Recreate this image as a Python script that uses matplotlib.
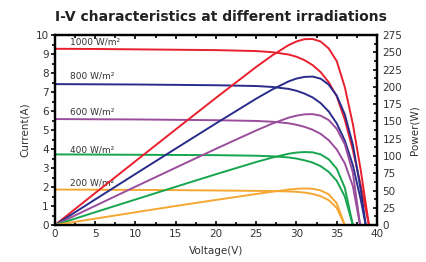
import matplotlib
matplotlib.use("Agg")
from matplotlib import pyplot as plt
from matplotlib.ticker import MultipleLocator

# 1000 W/m2
v_1000 = [0, 5, 10, 15, 20, 25, 27, 29, 30, 31, 32, 33, 34, 35, 36, 37, 38, 39]
i_1000 = [9.28, 9.27, 9.25, 9.23, 9.21, 9.16, 9.10, 8.98, 8.86, 8.68, 8.42, 8.05, 7.52, 6.78, 5.55, 3.95, 2.05, 0]
p_1000 = [0, 46.4, 92.5, 138.5, 184.2, 229.0, 245.7, 260.4, 265.8, 269.1, 269.4, 265.7, 255.7, 237.3, 199.8, 146.2, 77.9, 0]

# 800 W/m2
v_800 = [0, 5, 10, 15, 20, 25, 27, 29, 30, 31, 32, 33, 34, 35, 36, 37, 38, 38.6]
i_800 = [7.42, 7.41, 7.40, 7.38, 7.36, 7.32, 7.27, 7.17, 7.07, 6.92, 6.72, 6.42, 5.98, 5.35, 4.45, 3.15, 1.30, 0]
p_800 = [0, 37.1, 74.0, 110.7, 147.2, 183.0, 196.3, 207.9, 212.1, 214.5, 215.0, 211.9, 203.3, 187.3, 160.2, 116.6, 49.4, 0]

# 600 W/m2
v_600 = [0, 5, 10, 15, 20, 25, 27, 29, 30, 31, 32, 33, 34, 35, 36, 37, 37.9]
i_600 = [5.58, 5.57, 5.56, 5.54, 5.52, 5.48, 5.44, 5.36, 5.28, 5.17, 5.02, 4.80, 4.47, 3.98, 3.25, 2.05, 0]
p_600 = [0, 27.9, 55.6, 83.1, 110.4, 137.0, 146.9, 155.4, 158.4, 160.3, 160.6, 158.4, 152.0, 139.3, 117.0, 75.9, 0]

# 400 W/m2
v_400 = [0, 5, 10, 15, 20, 25, 27, 29, 30, 31, 32, 33, 34, 35, 36, 37]
i_400 = [3.72, 3.71, 3.70, 3.69, 3.68, 3.65, 3.62, 3.56, 3.50, 3.41, 3.29, 3.10, 2.80, 2.33, 1.50, 0]
p_400 = [0, 18.6, 37.0, 55.4, 73.6, 91.3, 97.7, 103.2, 105.0, 105.7, 105.3, 102.3, 95.2, 81.6, 54.0, 0]

# 200 W/m2
v_200 = [0, 5, 10, 15, 20, 25, 27, 29, 30, 31, 32, 33, 34, 35, 36]
i_200 = [1.87, 1.86, 1.85, 1.84, 1.82, 1.80, 1.79, 1.77, 1.75, 1.71, 1.64, 1.52, 1.31, 0.90, 0]
p_200 = [0, 9.3, 18.5, 27.6, 36.4, 45.0, 48.3, 51.3, 52.5, 53.0, 52.5, 50.2, 44.5, 31.5, 0]

labels = ["1000 W/m²", "800 W/m²", "600 W/m²", "400 W/m²", "200 W/m²"]
label_y = [9.65, 7.85, 5.95, 3.95, 2.2]
colors = ["#e8202e", "#2a2c8c", "#9a4d9c", "#17a64f", "#f6a733"]

curves = [
    (v_1000, i_1000, p_1000),
    (v_800, i_800, p_800),
    (v_600, i_600, p_600),
    (v_400, i_400, p_400),
    (v_200, i_200, p_200),
]

fig = plt.figure(figsize=(4.26, 2.62), dpi=100)
ax = fig.add_axes([0.129, 0.141, 0.756, 0.725])
ax2 = ax.twinx()

for (v, i, p), c in zip(curves, colors):
    ax.plot(v, i, color=c, lw=1.4, solid_joinstyle="round")
    ax2.plot(v, p, color=c, lw=1.4, solid_joinstyle="round")

for txt, y in zip(labels, label_y):
    ax.text(1.9, y, txt, fontsize=6.5, color="#333333", va="center")

ax.set_xlim(0, 40)
ax.set_ylim(0, 10)
ax2.set_ylim(0, 275)

ax.xaxis.set_major_locator(MultipleLocator(5))
ax.xaxis.set_minor_locator(MultipleLocator(2.5))
ax.yaxis.set_major_locator(MultipleLocator(1))
ax.yaxis.set_minor_locator(MultipleLocator(0.5))
ax2.yaxis.set_major_locator(MultipleLocator(25))
ax2.yaxis.set_minor_locator(MultipleLocator(12.5))

ax.tick_params(axis="both", which="major", labelsize=7.5, labelcolor="#333333",
               width=1.2, length=3, direction="out", pad=1.5)
ax.tick_params(axis="both", which="minor", width=1.2, length=2, direction="out")
ax.tick_params(axis="x", which="both", top=True, direction="in")
ax.tick_params(axis="x", which="major", pad=3)
ax2.tick_params(axis="y", which="major", labelsize=7.5, labelcolor="#333333",
                width=1.2, length=3, direction="in", pad=4)
ax2.tick_params(axis="y", which="minor", width=1.2, length=2, direction="in")

for a in (ax, ax2):
    for s in a.spines.values():
        s.set_linewidth(1.6)

ax.set_xlabel("Voltage(V)", fontsize=7.5, color="#333333", labelpad=5)
ax.set_ylabel("Current(A)", fontsize=7.5, color="#333333", labelpad=4)
ax2.set_ylabel("Power(W)", fontsize=7.5, color="#333333", labelpad=5)

fig.text(0.519, 0.935, "I-V characteristics at different irradiations",
         ha="center", va="center", fontsize=10, fontweight="bold", color="#222222")

fig.savefig("out.png", dpi=100)
